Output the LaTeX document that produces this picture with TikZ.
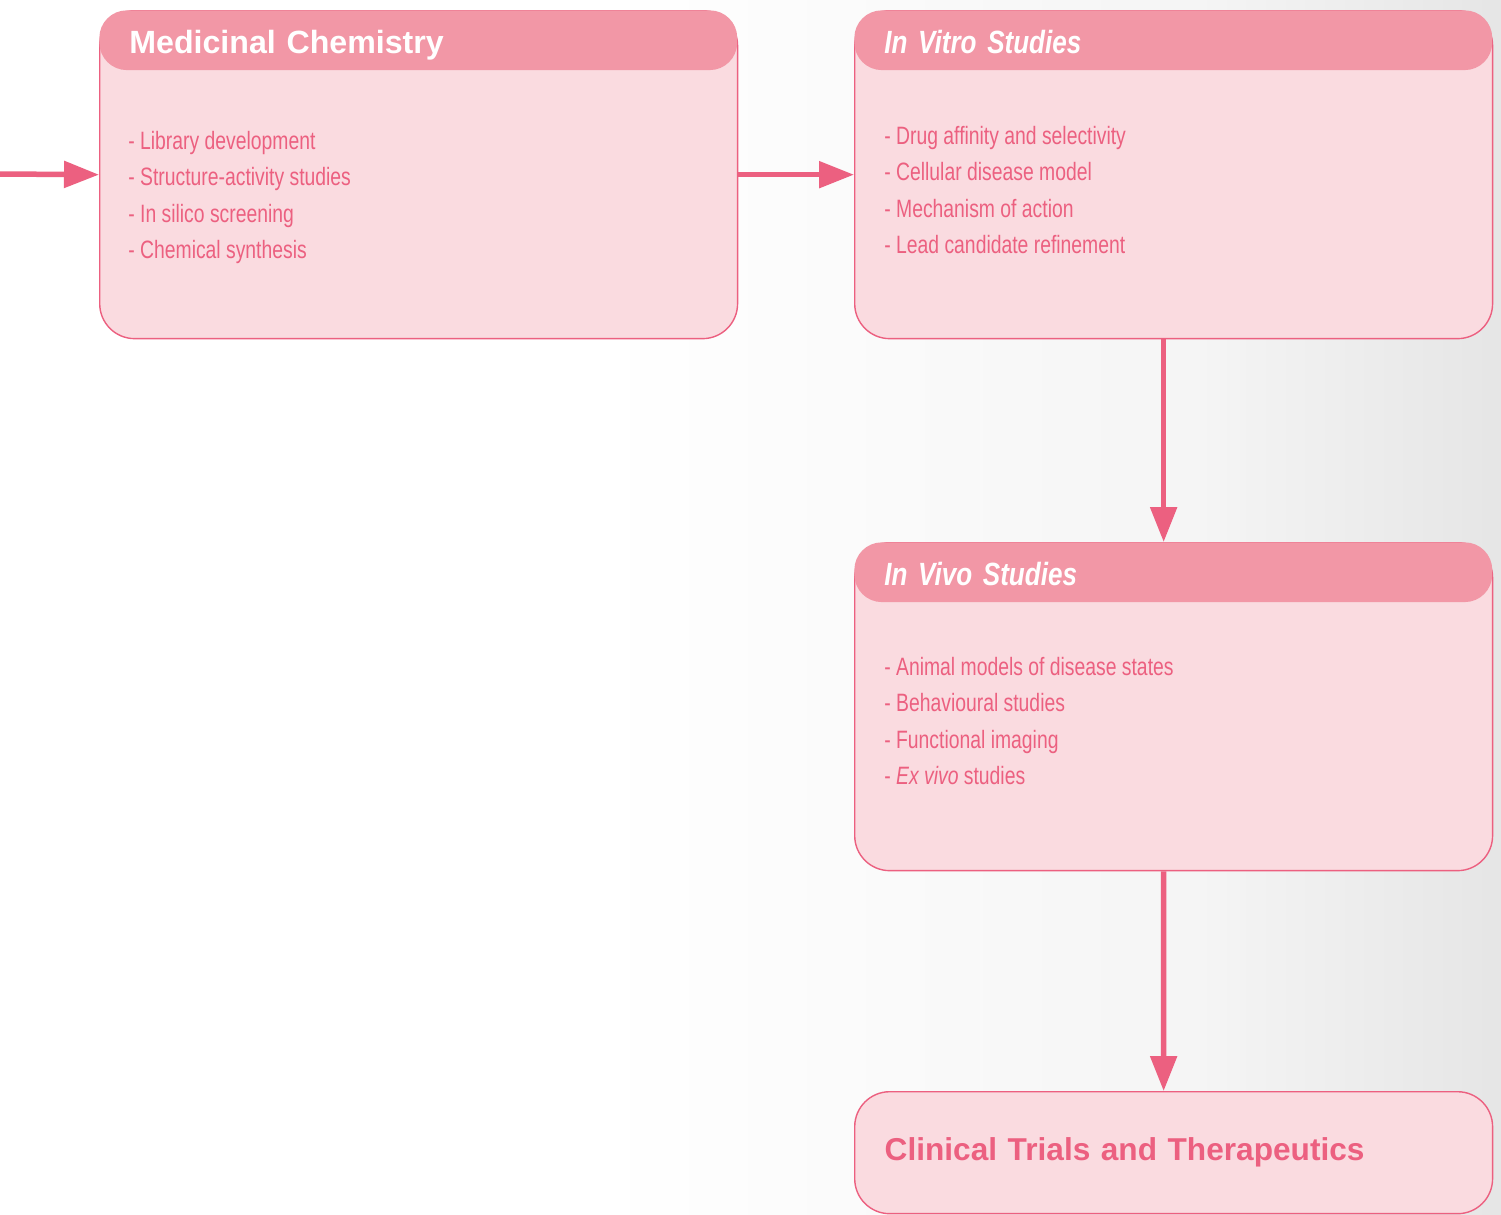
\documentclass[tikz,border=0pt]{standalone}
\usepackage{fontspec}
\setmainfont{Liberation Sans}
\newfontfamily\bodyfont[FakeStretch=0.77]{Liberation Sans}
\newfontfamily\headfont[FakeStretch=0.81]{Liberation Sans}
\usetikzlibrary{arrows.meta}
\definecolor{boxfill}{HTML}{FADBE0}
\definecolor{headfill}{HTML}{F297A6}
\definecolor{rose}{HTML}{EC6080}
\pgfdeclarehorizontalshading{backdrop}{100bp}{color(0bp)=(white); color(45bp)=(white); color(65bp)=(black!4); color(75bp)=(black!10); color(100bp)=(black!10)}
\begin{document}
\begin{tikzpicture}[x=0.02cm, y=-0.02cm,
  stage/.style={draw=rose, line width=0.8pt, fill=boxfill, rounded corners=0.7cm,
    minimum width=12.76cm, minimum height=6.56cm, anchor=north west},
  header/.style={fill=headfill, rounded corners=0.55cm, text=white, text width=11.56cm,
    inner xsep=0.6cm, inner ysep=0pt, text height=24.4pt, text depth=9.6pt,
    anchor=north west, align=left, font=\fontsize{18.3}{21}\selectfont\bfseries},
  items/.style={text=rose, align=left, anchor=north west, inner sep=0pt,
    font=\bodyfont\fontsize{14.3}{20.7}\selectfont},
  flow/.style={draw=rose, line width=0.11cm, -{Triangle[length=0.7cm, width=0.52cm]}}]
\useasboundingbox (0,0) rectangle (1501,1214);
\shade[shading=backdrop] (0,0) rectangle (1501,1214);

% stages
\node[stage] (medchem) at (99,10) {};
\node[stage] (vitro) at (854,10) {};
\node[stage] (vivo) at (854,542) {};
\node[stage, minimum height=2.44cm, text width=11.56cm, inner xsep=0.6cm, align=left,
  text=rose, font=\fontsize{18}{21}\selectfont\bfseries] (clinic) at (854,1091)
  {Clinical Trials and Therapeutics};

% headers
\node[header] (medchemhead) at (99,10) {Medicinal Chemistry};
\node[header] (vitrohead) at (854,10) {\headfont\bfseries\itshape In Vitro Studies};
\node[header] (vivohead) at (854,542) {\headfont\bfseries\itshape In Vivo Studies};

% lists
\node[items] (medchemlist) at (128,131) {- Library development\\- Structure-activity studies\\- In silico screening\\- Chemical synthesis};
\node[items] (vitrolist) at (884,126) {- Drug affinity and selectivity\\- Cellular disease model\\- Mechanism of action\\- Lead candidate refinement};
\node[items] (vivolist) at (884,657) {- Animal models of disease states\\- Behavioural studies\\- Functional imaging\\- \textit{Ex vivo} studies};

% flow
\coordinate (entry) at (0,174);
\draw[flow] (entry) -- (medchem.west);
\draw[flow] (medchem.east) -- (vitro.west);
\draw[flow] ([xshift=-0.2cm]vitro.south) -- ([xshift=-0.2cm]vivo.north);
\draw[flow] ([xshift=-0.2cm]vivo.south) -- ([xshift=-0.2cm]clinic.north);
\end{tikzpicture}
\end{document}
